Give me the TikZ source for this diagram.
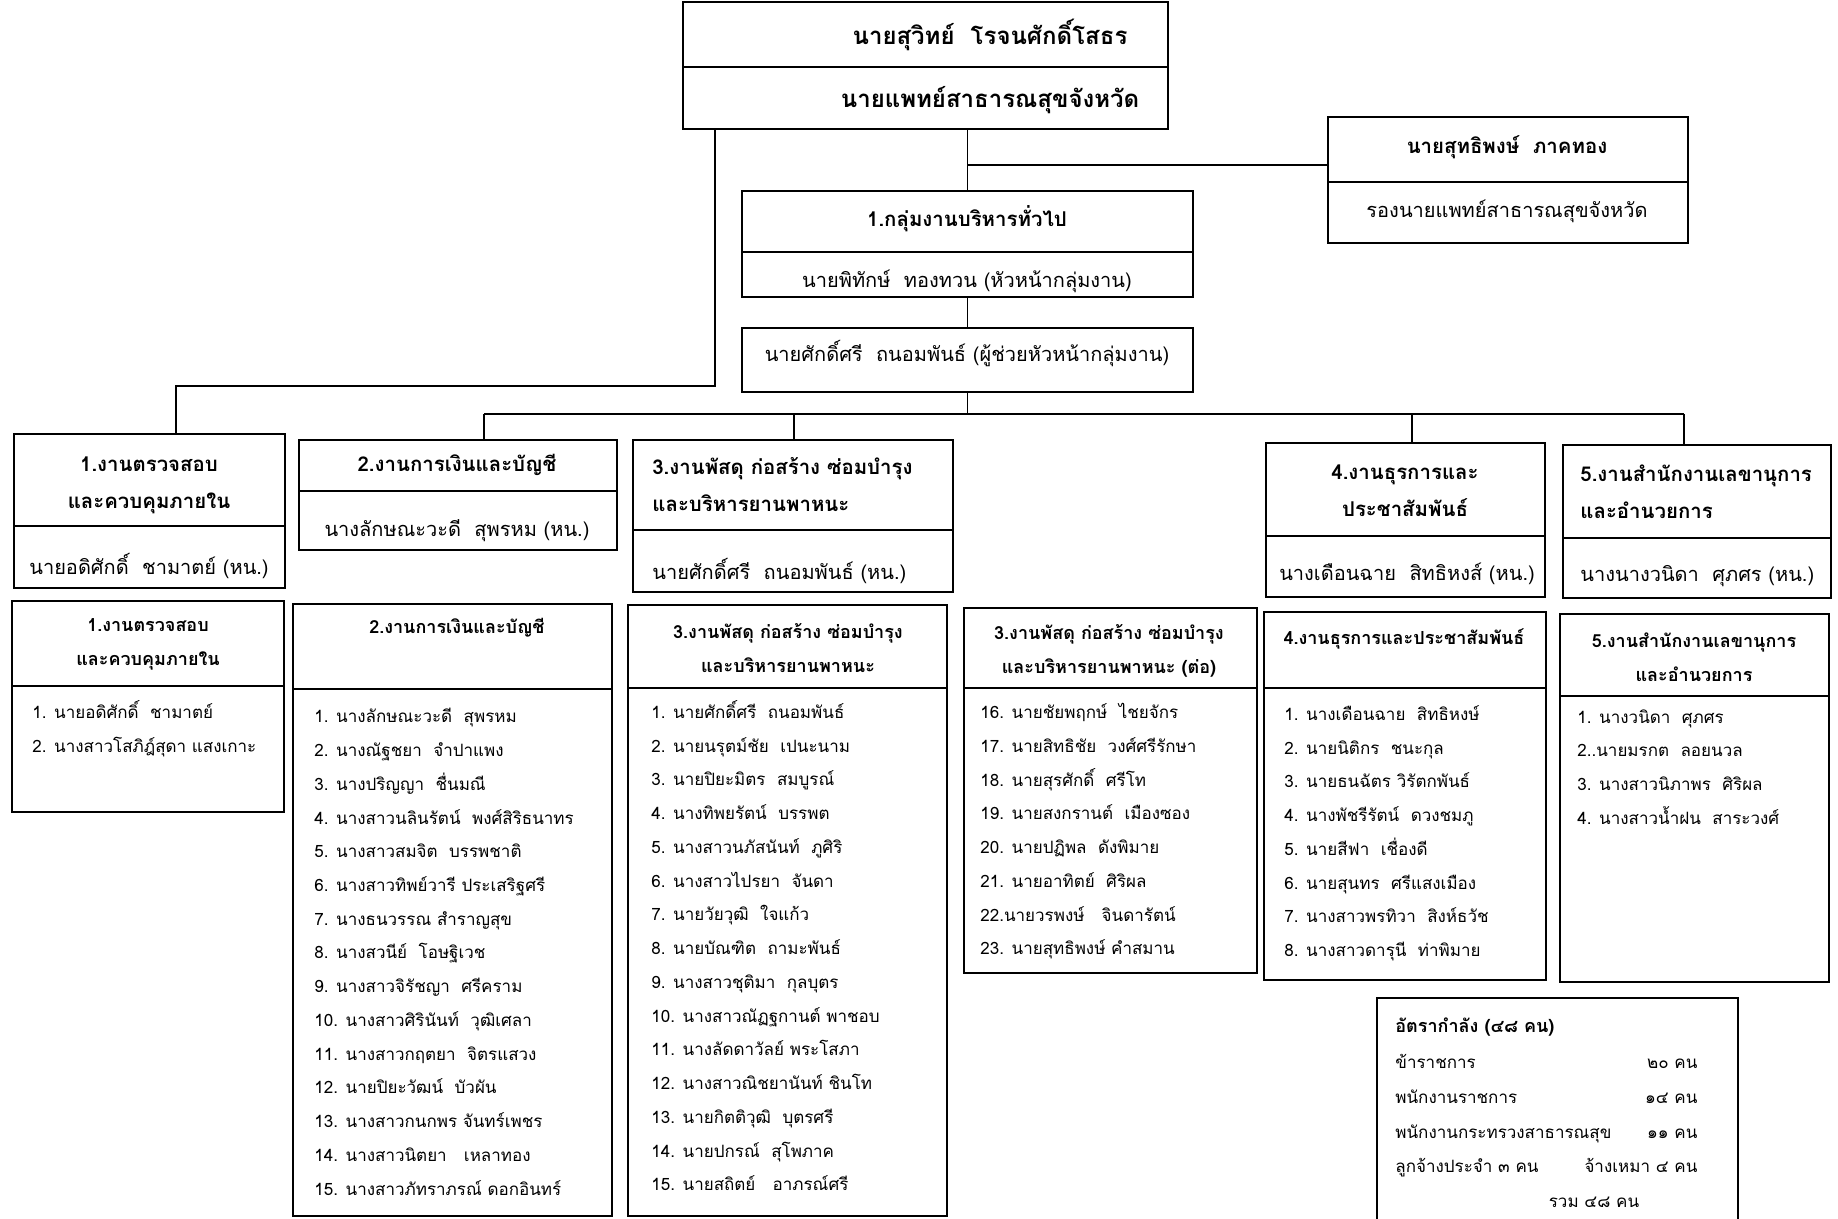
\documentclass[tikz,border=0pt]{standalone}
\usepackage{fontspec}
\setmainfont[Script=Thai]{Loma}

% box of the chart, given by name, top-left corner, width and height (in pixels of the chart)
\newcommand\panel[5]{\node[panel, minimum width=#4*0.5pt, minimum height=#5*0.5pt] (#1) at (#2,#3) {};}

\begin{document}
\begin{tikzpicture}[x=0.5pt,y=-0.5pt]
	\tikzstyle{panel}=[rectangle, draw, line width=0.9pt, inner sep=0pt, outer sep=0pt, anchor=north west]
	\tikzstyle{big}=[inner sep=0pt, font=\fontsize{12}{20}\selectfont\bfseries]
	\tikzstyle{head}=[inner sep=0pt, align=center, font=\fontsize{10.2}{18.5}\selectfont\bfseries]
	\tikzstyle{lhead}=[inner sep=0pt, align=left, anchor=west, font=\fontsize{10.2}{18.5}\selectfont\bfseries]
	\tikzstyle{who}=[inner sep=0pt, font=\fontsize{10}{18.5}\selectfont]
	\tikzstyle{shead}=[inner sep=0pt, align=center, font=\fontsize{9}{17}\selectfont\bfseries]
	\tikzstyle{roll}=[inner sep=0pt, anchor=north west, align=left, font=\fontsize{8.5}{16.87}\selectfont]
	\tikzstyle{wire}=[line width=0.9pt]

	\useasboundingbox (0,0) rectangle (1838,1219);

	% top of the chart
	\panel{dirname}{683}{2}{485}{65}
	\panel{dirpos}{683}{67}{485}{62}
	\node[big] (dirnamet) at (990,35) {นายสุวิทย์~~โรจนศักดิ์โสธร};
	\node[big] (dirpost) at (990,100) {นายแพทย์สาธารณสุขจังหวัด};

	\panel{depname}{1328}{117}{360}{65}
	\panel{deppos}{1328}{182}{360}{61}
	\node[head] (depnamet) at (1507,147) {นายสุทธิพงษ์~~ภาคทอง};
	\node[who] (deppost) at (1507,211) {รองนายแพทย์สาธารณสุขจังหวัด};

	\panel{grpname}{742}{191}{451}{61}
	\panel{grphead}{742}{252}{451}{45}
	\panel{grpasst}{742}{328}{451}{64}
	\node[head] (grpnamet) at (967,219) {1.กลุ่มงานบริหารทั่วไป};
	\node[who] (grpheadt) at (967,281) {นายพิทักษ์~~ทองทวน (หัวหน้ากลุ่มงาน)};
	\node[who] (grpasstt) at (967,354) {นายศักดิ์ศรี~~ถนอมพันธ์ (ผู้ช่วยหัวหน้ากลุ่มงาน)};

	% units with their heads
	\panel{u1t}{14}{434}{271}{92}
	\panel{u1n}{14}{526}{271}{62}
	\node[head] (u1tt) at (149,485) {1.งานตรวจสอบ\\และควบคุมภายใน};
	\node[who] (u1nt) at (149,566) {นายอดิศักดิ์~~ชามาตย์ (หน.)};

	\panel{u2t}{299}{440}{318}{51}
	\panel{u2n}{299}{491}{318}{59}
	\node[head] (u2tt) at (457,465) {2.งานการเงินและบัญชี};
	\node[who] (u2nt) at (457,531) {นางลักษณะวะดี~~สุพรหม (หน.)};

	\panel{u3t}{633}{440}{320}{90}
	\panel{u3n}{633}{530}{320}{62}
	\node[lhead] (u3tt) at (652,485) {3.งานพัสดุ ก่อสร้าง ซ่อมบำรุง\\และบริหารยานพาหนะ};
	\node[who, anchor=west] (u3nt) at (652,571) {นายศักดิ์ศรี~~ถนอมพันธ์ (หน.)};

	\panel{u4t}{1266}{443}{279}{93}
	\panel{u4n}{1266}{536}{279}{61}
	\node[head] (u4tt) at (1405,491) {4.งานธุรการและ\\ประชาสัมพันธ์};
	\node[who] (u4nt) at (1407,574) {นางเดือนฉาย~~สิทธิหงส์ (หน.)};

	\panel{u5t}{1563}{445}{268}{93}
	\panel{u5n}{1563}{538}{268}{60}
	\node[lhead] (u5tt) at (1580,492) {5.งานสำนักงานเลขานุการ\\และอำนวยการ};
	\node[who, anchor=west] (u5nt) at (1580,576) {นางนางวนิดา~~ศุภศร (หน.)};

	% staff lists
	\panel{l1h}{12}{601}{272}{85}
	\panel{l1b}{12}{686}{272}{126}
	\node[shead] (l1ht) at (148,644) {1.งานตรวจสอบ\\และควบคุมภายใน};
	\node[roll] (l1bt) at (32,700) {1. นายอดิศักดิ์~~ชามาตย์\\2. นางสาวโสภิฎ์สุดา แสงเกาะ};

	\panel{l2h}{293}{604}{319}{85}
	\panel{l2b}{293}{689}{319}{527}
	\node[shead] (l2ht) at (457,628) {2.งานการเงินและบัญชี};
	\node[roll] (l2bt) at (314,708) {1. นางลักษณะวะดี~~สุพรหม\\2. นางณัฐชยา~~จำปาแพง\\3. นางปริญญา~~ชื่นมณี\\4. นางสาวนลินรัตน์~~พงศ์สิริธนาทร\\5. นางสาวสมจิต~~บรรพชาติ\\6. นางสาวทิพย์วารี ประเสริฐศรี\\7. นางธนวรรณ สำราญสุข\\8. นางสวนีย์~~โอษฐิเวช\\9. นางสาวจิรัชญา~~ศรีคราม\\10. นางสาวศิรินันท์~~วุฒิเศลา\\11. นางสาวกฤตยา~~จิตรแสวง\\12. นายปิยะวัฒน์~~บัวผัน\\13. นางสาวกนกพร จันทร์เพชร\\14. นางสาวนิตยา~~~เหลาทอง\\15. นางสาวภัทราภรณ์ ดอกอินทร์};

	\panel{l3h}{628}{605}{319}{83}
	\panel{l3b}{628}{688}{319}{528}
	\node[shead] (l3ht) at (788,648) {3.งานพัสดุ ก่อสร้าง ซ่อมบำรุง\\และบริหารยานพาหนะ};
	\node[roll] (l3bt) at (651,700) {1. นายศักดิ์ศรี~~ถนอมพันธ์\\2. นายนรุตม์ชัย~~เปนะนาม\\3. นายปิยะมิตร~~สมบูรณ์\\4. นางทิพยรัตน์~~บรรพต\\5. นางสาวนภัสนันท์~~ภูศิริ\\6. นางสาวไปรยา~~จันดา\\7. นายวัยวุฒิ~~ใจแก้ว\\8. นายบัณฑิต~~ถามะพันธ์\\9. นางสาวชุติมา~~กุลบุตร\\10. นางสาวณัฏฐกานต์ พาชอบ\\11. นางลัดดาวัลย์ พระโสภา\\12. นางสาวณิชยานันท์ ชินโท\\13. นายกิตติวุฒิ~~บุตรศรี\\14. นายปกรณ์~~สุโพภาค\\15. นายสถิตย์~~~อาภรณ์ศรี};

	\panel{l4h}{964}{608}{293}{80}
	\panel{l4b}{964}{688}{293}{285}
	\node[shead] (l4ht) at (1109,651) {3.งานพัสดุ ก่อสร้าง ซ่อมบำรุง\\และบริหารยานพาหนะ (ต่อ)};
	\node[roll] (l4bt) at (980,703) {16. นายชัยพฤกษ์~~ไชยจักร\\17. นายสิทธิชัย~~วงศ์ศรีรักษา\\18. นายสุรศักดิ์~~ศรีโท\\19. นายสงกรานต์~~เมืองซอง\\20. นายปฏิพล~~ดังพิมาย\\21. นายอาทิตย์~~ศิริผล\\22.นายวรพงษ์~~~จินดารัตน์\\23. นายสุทธิพงษ์ คำสมาน};

	\panel{l5h}{1264}{612}{282}{76}
	\panel{l5b}{1264}{688}{282}{292}
	\node[shead] (l5ht) at (1404,639) {4.งานธุรการและประชาสัมพันธ์};
	\node[roll] (l5bt) at (1284,705) {1. นางเดือนฉาย~~สิทธิหงษ์\\2. นายนิติกร~~ชนะกุล\\3. นายธนฉัตร วิรัตกพันธ์\\4. นางพัชรีรัตน์~~ดวงชมภู\\5. นายสีฟา~~เชื่องดี\\6. นายสุนทร~~ศรีแสงเมือง\\7. นางสาวพรทิวา~~สิงห์ธวัช\\8. นางสาวดารุนี~~ท่าพิมาย};

	\panel{l6h}{1560}{614}{269}{82}
	\panel{l6b}{1560}{696}{269}{286}
	\node[shead] (l6ht) at (1694,657) {5.งานสำนักงานเลขานุการ\\และอำนวยการ};
	\node[roll] (l6bt) at (1577,709) {1. นางวนิดา~~ศุภศร\\2..นายมรกต~~ลอยนวล\\3. นางสาวนิภาพร~~ศิริผล\\4. นางสาวน้ำฝน~~สาระวงศ์};

	% head count
	\panel{sum}{1377}{998}{361}{230}
	\node[shead, anchor=west] (sumt) at (1395,1027) {อัตรากำลัง (๔๘ คน)};
	\node[roll, font=\fontsize{8.5}{17.35}\selectfont] (sumrows) at (1395,1044) {%
		\begin{tabular*}{151pt}{@{}l@{\extracolsep{\fill}}r@{}}
			ข้าราชการ & ๒๐ คน\\
			พนักงานราชการ & ๑๔ คน\\
			พนักงานกระทรวงสาธารณสุข & ๑๑ คน\\
			\multicolumn{2}{@{}l@{}}{\makebox[151pt]{ลูกจ้างประจำ ๓ คน\hfill จ้างเหมา ๔ คน}}
		\end{tabular*}};
	\node[roll, anchor=center] (sumall) at (1594,1202) {รวม ๔๘ คน};

	% lines
	\coordinate (br) at (967,165);
	\coordinate (lft) at (715,386);
	\coordinate (c1) at (176,0);
	\draw[wire] (grpname.north) -- (grpname.north |- dirpos.south);
	\draw[wire] (br) -- (br -| depname.west);
	\draw[wire] (grphead.south) -- (grpasst.north);
	\draw[wire] (lft |- dirpos.south) -- (lft) -| (c1 |- u1t.north);

	\coordinate (d2) at (484,414);
	\coordinate (d3) at (794,414);
	\coordinate (d4) at (1412,414);
	\coordinate (d5) at (1684,414);
	\draw[wire] (grpasst.south) -- (grpasst.south |- d2);
	\draw[wire] (d2) -- (d5);
	\draw[wire] (d2) -- (d2 |- u2t.north);
	\draw[wire] (d3) -- (d3 |- u3t.north);
	\draw[wire] (d4) -- (d4 |- u4t.north);
	\draw[wire] (d5) -- (d5 |- u5t.north);
\end{tikzpicture}
\end{document}
